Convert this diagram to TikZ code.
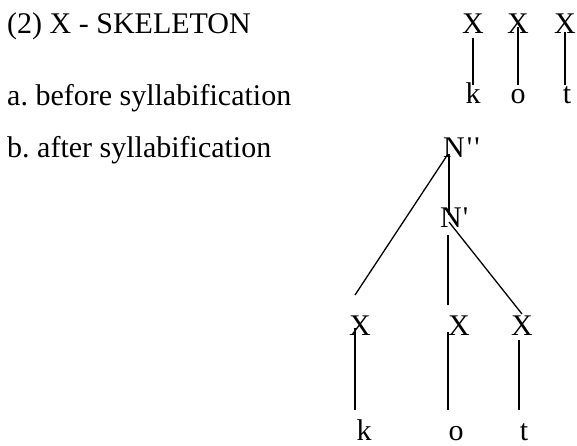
\documentclass[tikz,border=0pt]{standalone}
\usepackage{fontspec}
\setmainfont{Liberation Serif}
\begin{document}
\frenchspacing
\begin{tikzpicture}[x=1pt,y=-1pt,
  lbl/.style={inner sep=0pt,anchor=base west,font=\fontsize{30}{36}\selectfont},
  seg/.style={inner sep=0pt,anchor=base,font=\fontsize{30}{36}\selectfont},
  link/.style={line width=1.3pt,black}]
\useasboundingbox (0,0) rectangle (577,445);
% left labels
\node[lbl] (title) at (7,33) {(2) X - SKELETON};
\node[lbl] (la) at (7,105) {a.\ before syllabification};
\node[lbl] (lb) at (7,157) {b.\ after syllabification};
% (a) before syllabification
\node[seg] (ta) at (473,33) {X};
\node[seg] (tb) at (518,33) {X};
\node[seg] (tc) at (565,33) {X};
\node[seg] (tk) at (473,103) {k};
\node[seg] (to) at (518,103) {o};
\node[seg] (tt) at (567,103) {t};
\draw[link] ([shift={(0,5)}]ta.base) -- ([shift={(0,-18)}]tk.base);
\draw[link] ([shift={(0,-6)}]tb.base) -- ([shift={(0,-18)}]to.base);
\draw[link] ([shift={(0,-1)}]tc.base) -- ([shift={(-2,-18)}]tt.base);
% (b) after syllabification
\node[lbl] (npp) at (443,157) {N\kern2pt\textquotesingle\kern2pt\textquotesingle};
\node[lbl] (np) at (440,227) {N\kern1pt\textquotesingle};
\node[seg] (xa) at (360,335) {X};
\node[seg] (xb) at (459,335) {X};
\node[seg] (xc) at (522,335) {X};
\node[seg] (k) at (364,440) {k};
\node[seg] (o) at (456,440) {o};
\node[seg] (t) at (524,440) {t};
\draw[link] ([shift={(5,-3)}]npp.base west) -- ([shift={(-5,-40)}]xa.base);
\draw[link] ([shift={(6,-3)}]npp.base west) -- ([shift={(9,-12)}]np.base west);
\draw[link] ([shift={(9,-5)}]np.base west) -- ([shift={(0,-21)}]xc.base);
\draw[link] ([shift={(8,8)}]np.base west) -- ([shift={(-11,-30)}]xb.base);
\draw[link] ([shift={(-5,-7)}]xa.base) -- ([shift={(-9,-30)}]k.base);
\draw[link] ([shift={(-11,-3)}]xb.base) -- ([shift={(-8,-30)}]o.base);
\draw[link] ([shift={(-3,5)}]xc.base) -- ([shift={(-5,-30)}]t.base);
\end{tikzpicture}
\end{document}
